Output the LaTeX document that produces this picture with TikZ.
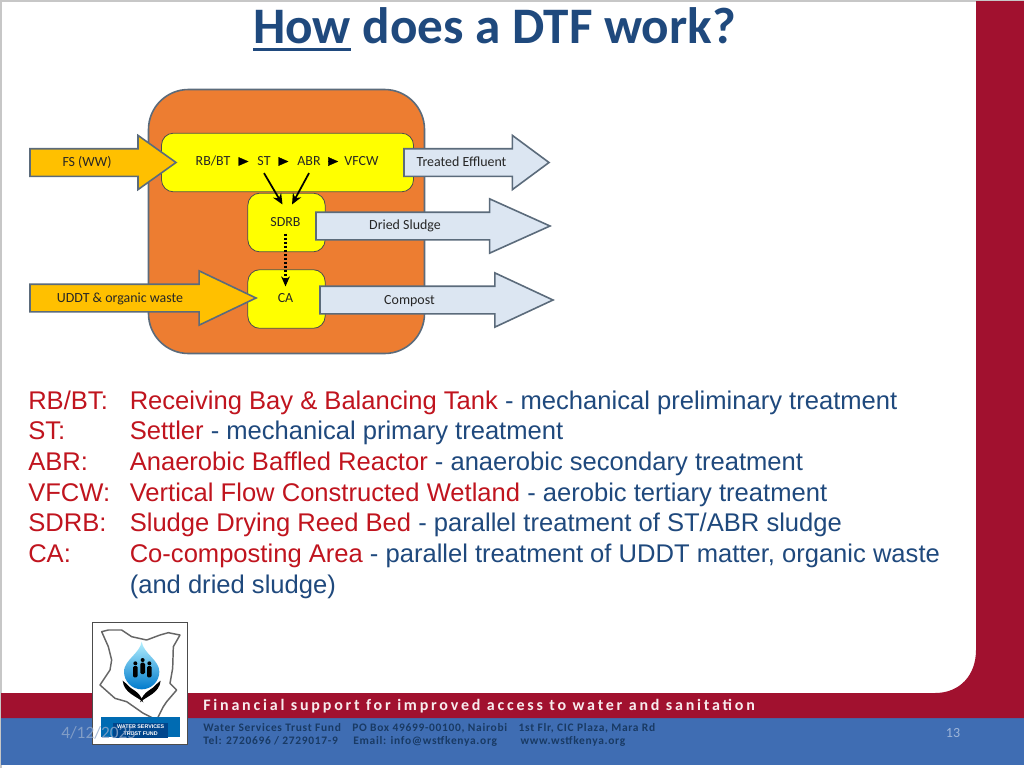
\documentclass[tikz,border=0pt]{standalone}
\usepackage{fontspec}
\usepackage{xcolor}
\setmainfont{Liberation Sans}
\newfontfamily\slidefont{Carlito}
\newfontfamily\bandfont[LetterSpace=17.5]{Carlito}
\newfontfamily\addrfont[LetterSpace=6]{Carlito}
\usetikzlibrary{shapes,arrows.meta,positioning}

\definecolor{slidered}{HTML}{A1112F}
\definecolor{slideblue}{HTML}{3F6DB3}
\definecolor{titleblue}{HTML}{1F497D}
\definecolor{termred}{HTML}{C0141E}
\definecolor{plantorange}{HTML}{ED7D31}
\definecolor{unityellow}{HTML}{FFFF00}
\definecolor{inflowgold}{HTML}{FFC000}
\definecolor{outflowblue}{HTML}{DCE6F2}
\definecolor{edgegray}{HTML}{5B6B7B}

\newcommand{\thickunder}[1]{\setbox0\hbox{#1}\rlap{\rule[-6pt]{\wd0}{2.2pt}}\box0\relax}

\tikzset{
    plantbox/.style={rectangle, fill=unityellow, draw=black!70, line width=0.6pt, rounded corners=9pt, inner sep=0pt},
    flowarrow/.style n args={3}{single arrow, anchor=tail, draw=edgegray, line width=1.2pt, fill=#1,
        inner sep=0pt, inner ysep=9.75pt, outer sep=0pt, minimum width=40pt, minimum height=#2,
        single arrow tip angle=#3, single arrow head extend=10pt},
    flowtext/.style={font=\slidefont\fontsize{10.45pt}{12pt}\selectfont, text=black!85, inner sep=2pt, text height=8pt, text depth=2pt},
    stagetext/.style={flowtext, inner sep=3.5pt},
    stagetip/.style={-{Triangle[length=7.5pt,width=6.5pt]}, line width=0.2pt, shorten <=3pt, shorten >=3pt},
    solidlink/.style={-{Stealth[length=8pt,width=7pt]}, line width=1.3pt},
    dottedlink/.style={-{Stealth[length=7.5pt,width=6.5pt]}, line width=1.8pt, dash pattern=on 1.5pt off 1.5pt},
    termtext/.style={anchor=base west, inner sep=0pt, font=\fontsize{19.18pt}{23pt}\selectfont, text=termred},
}

\begin{document}
\begin{tikzpicture}[x=0.75pt, y=-0.75pt]
    \useasboundingbox (0,0) rectangle (1024,768);
    % slide frame
    \fill[white] (0,0) rectangle (1024,768);
    \draw[black!22, line width=0.8pt] (1,768) -- (1,1) -- (1024,1);
    \fill[slideblue] (1,718) rectangle (1024,765);
    \fill[slidered] (976,1) -- (1024,1) -- (1024,718) -- (1,718) -- (1,693) -- (935,693)
        .. controls (960,693) and (976,675) .. (976,650) -- cycle;

    \node[anchor=base, inner sep=0pt, text=titleblue, font=\slidefont\bfseries\fontsize{38.4pt}{42pt}\selectfont] (title) at (494.5,43) {\thickunder{How} does a DTF work?};

    % plant
    \node[rectangle, fill=plantorange, draw=edgegray, line width=1.2pt, rounded corners=30pt, minimum width=207pt, minimum height=198pt, inner sep=0pt] (plant) at (286.5,221.5) {};
    \node[plantbox, minimum width=189pt, minimum height=44pt] (mainline) at (287.5,162.5) {};
    \node[plantbox, minimum width=58pt, minimum height=44pt] (sdrbbox) at (286.5,222.5) {};
    \node[plantbox, minimum width=58pt, minimum height=44pt] (cabox) at (286.5,299) {};

    % flows in and out
    \node[flowarrow={inflowgold}{109.5pt}{71}] (fsarrow) at (30,162.5) {};
    \node[flowarrow={inflowgold}{169.5pt}{51}] (uddtarrow) at (30,298) {};
    \node[flowarrow={outflowblue}{108.75pt}{73}] (effluentarrow) at (404,162.5) {};
    \node[flowarrow={outflowblue}{175.5pt}{48.4}] (sludgearrow) at (316,226) {};
    \node[flowarrow={outflowblue}{174.75pt}{50}] (compostarrow) at (320,300) {};

    \node[flowtext] (fslabel) at (87,162) {FS (WW)};
    \node[flowtext] (uddtlabel) at (120,298) {UDDT \& organic waste};
    \node[flowtext] (effluentlabel) at (461.5,162) {Treated Effluent};
    \node[flowtext] (sludgelabel) at (405,225) {Dried Sludge};
    \node[flowtext] (compostlabel) at (409.5,300) {Compost};

    \node[stagetext] (rbbt) at (213,161.5) {RB/BT};
    \node[stagetext] (st) at (264,161.5) {ST};
    \node[stagetext] (abr) at (309,161.5) {ABR};
    \node[stagetext] (vfcw) at (361.5,161.5) {VFCW};
    \node[stagetext] (sdrb) at (285.5,222) {SDRB};
    \node[stagetext] (ca) at (285.5,298) {CA};
    \coordinate (sdrbleft) at (282.5,204.5);
    \coordinate (sdrbright) at (292,204.5);

    \draw[stagetip] (rbbt) -- (st);
    \draw[stagetip] (st) -- (abr);
    \draw[stagetip, shorten >=1pt] (abr) -- (vfcw);
    \draw[solidlink] (st.south) -- (sdrbleft);
    \draw[solidlink] (abr.south) -- (sdrbright);
    \draw[dottedlink] (sdrb) -- (ca);

    % key
    \node[termtext] (rbterm) at (28,409) {RB/BT:};
    \node[termtext] (stterm) at (28,439.7) {ST:};
    \node[termtext] (abrterm) at (28,470.4) {ABR:};
    \node[termtext] (vfcwterm) at (28,501.1) {VFCW:};
    \node[termtext] (sdrbterm) at (28,531.8) {SDRB:};
    \node[termtext] (caterm) at (28,562.5) {CA:};
    \node[termtext] (rbdef) at (129.5,409) {Receiving Bay \& Balancing Tank \textcolor{titleblue}{- mechanical preliminary treatment}};
    \node[termtext] (stdef) at (129.5,439.7) {Settler \textcolor{titleblue}{- mechanical primary treatment}};
    \node[termtext] (abrdef) at (129.5,470.4) {Anaerobic Baffled Reactor \textcolor{titleblue}{- anaerobic secondary treatment}};
    \node[termtext] (vfcwdef) at (129.5,501.1) {Vertical Flow Constructed Wetland \textcolor{titleblue}{- aerobic tertiary treatment}};
    \node[termtext] (sdrbdef) at (129.5,531.8) {Sludge Drying Reed Bed \textcolor{titleblue}{- parallel treatment of ST/ABR sludge}};
    \node[termtext] (cadef) at (129.5,562.5) {Co-composting Area \textcolor{titleblue}{- parallel treatment of UDDT matter, organic waste}};
    \node[termtext, text=titleblue] (cadefmore) at (129.5,593.2) {(and dried sludge)};

    % footer band
    \node[anchor=west, inner sep=0pt, text=white!92!slidered, font=\bandfont\bfseries\fontsize{12pt}{14pt}\selectfont] (bandline) at (203,706) {Financial support for improved access to water and sanitation};
    \node[anchor=west, inner sep=0pt, text=titleblue!80!black, font=\addrfont\bfseries\fontsize{8.6pt}{10pt}\selectfont] (addrone) at (203,728) {Water Services Trust Fund\quad PO Box 49699-00100, Nairobi\quad 1st Flr, CIC Plaza, Mara Rd};
    \node[anchor=west, inner sep=0pt, text=titleblue!80!black, font=\addrfont\bfseries\fontsize{8.6pt}{10pt}\selectfont] (addrtwo) at (203,741) {Tel: 2720696 / 2729017-9\quad\hspace{3pt}Email: info@wstfkenya.org\quad\hspace{9pt}www.wstfkenya.org};
    \node[anchor=center, inner sep=0pt, text=white!50!slideblue, font=\slidefont\fontsize{10.5pt}{12pt}\selectfont] (pagenum) at (953,733) {13};

    % logo, drawn on a finer grid
    \begin{scope}[shift={(0,610)}, x=0.25pt, y=-0.25pt]
        \draw[fill=white, draw=black!70, line width=1.2pt] (278,38) rectangle (563,403);
        \draw[fill=white, draw=black!60, line width=1.1pt, line join=round] (305,65) -- (325,60) -- (365,60) -- (395,80) -- (440,90) -- (480,75) -- (505,68) -- (540,75) -- (520,110) -- (518,175) -- (510,220) -- (530,240) -- (500,275) -- (490,290) -- (470,330) -- (430,310) -- (380,275) -- (345,265) -- (300,225) -- (330,180) -- (335,150) -- (325,110) -- cycle;
        \shade[top color=blue!20!cyan!30!white, bottom color=blue!40!cyan!80!black] (425,95) .. controls (430,130) and (478,150) .. (478,185) arc (0:180:53) .. controls (372,150) and (420,130) .. (425,95) -- cycle;
        \foreach \px/\py in {406/160, 428/150, 448/160} {
            \fill[black] (\px,\py) circle (6);
            \fill[black, rounded corners=1pt] (\px-7,\py+8) rectangle (\px+7,\py+42);
        }
        \fill[black] (368,212) .. controls (372,250) and (410,258) .. (430,277) .. controls (418,240) and (392,240) .. (380,222) -- cycle;
        \fill[black] (482,212) .. controls (478,250) and (440,258) .. (420,277) .. controls (432,240) and (458,240) .. (470,222) -- cycle;
        \fill[blue!40!cyan!70!black] (303,322) rectangle (540,380);
        \fill[blue!50!cyan!55!black] (340,340) rectangle (505,385);
        \node[inner sep=0pt, align=center, text=white, font=\bfseries\fontsize{4pt}{5.5pt}\selectfont] (logotext) at (422,361) {WATER SERVICES\\TRUST FUND};
    \end{scope}
    \node[anchor=west, inner sep=0pt, text=black!10!slideblue!55!white, opacity=0.8, font=\slidefont\fontsize{13pt}{15pt}\selectfont] (datelabel) at (61,733) {4/12/2025};
\end{tikzpicture}
\end{document}
